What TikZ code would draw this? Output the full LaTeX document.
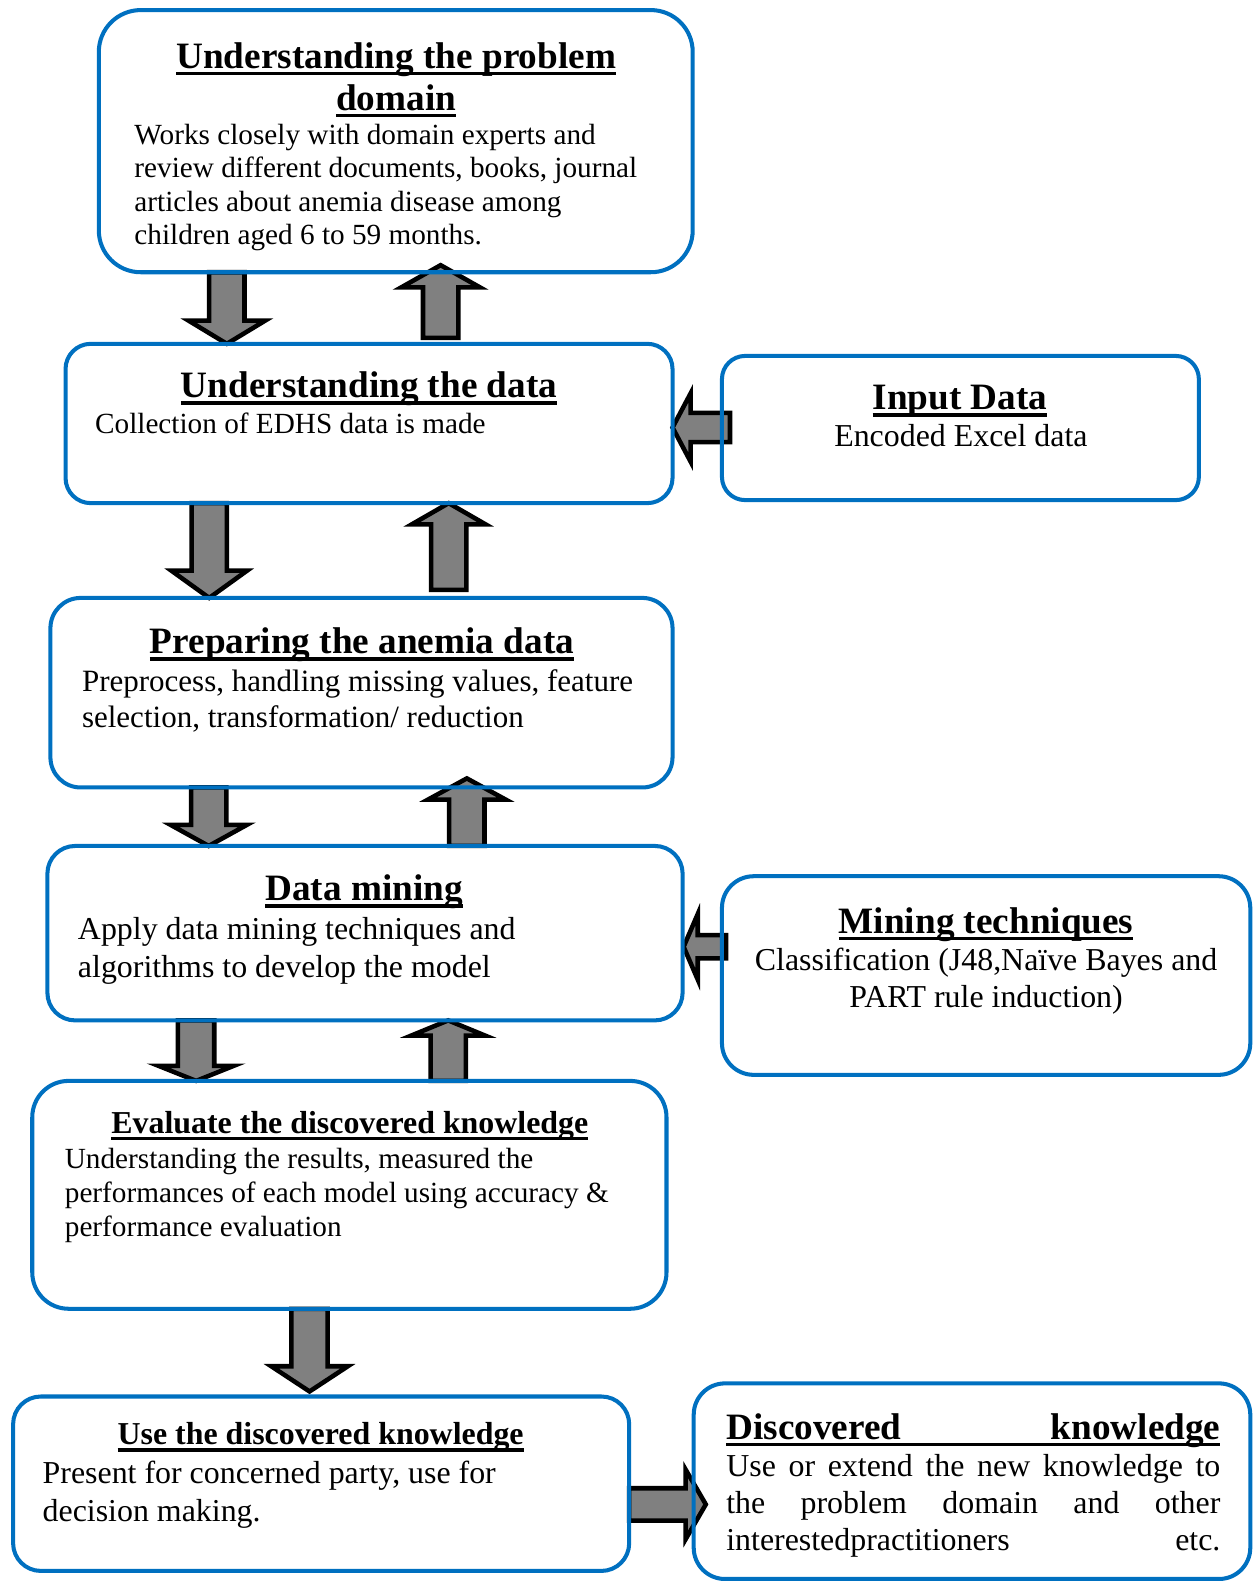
\documentclass[tikz,border=0pt]{standalone}
\usepackage{fontspec}
\setmainfont{Liberation Serif}
\usepackage{tikz}
\usepackage{xcolor}
\usetikzlibrary{positioning,calc,backgrounds}
\definecolor{boxblue}{HTML}{0070C0}
\definecolor{arrowgrey}{HTML}{808080}
% thick underline for the box titles
\newcommand\hul[1]{\setbox0=\hbox{#1}\rlap{\rule[-3.8pt]{\wd0}{1.9pt}}\box0}
% block arrow: tail, tip, shaft half width, head half width, head length
\newcommand\fatarrow[5]{%
  \draw[blockarrow] let \p1=#1, \p2=#2,
      \n1={veclen(\x2-\x1,\y2-\y1)}, \n2={(\x2-\x1)/\n1}, \n3={(\y2-\y1)/\n1} in
    ({\x1-#3*(\n3)},{\y1+#3*(\n2)})
    -- ({\x2-#5*(\n2)-#3*(\n3)},{\y2-#5*(\n3)+#3*(\n2)})
    -- ({\x2-#5*(\n2)-#4*(\n3)},{\y2-#5*(\n3)+#4*(\n2)})
    -- (\p2)
    -- ({\x2-#5*(\n2)+#4*(\n3)},{\y2-#5*(\n3)-#4*(\n2)})
    -- ({\x2-#5*(\n2)+#3*(\n3)},{\y2-#5*(\n3)-#3*(\n2)})
    -- ({\x1+#3*(\n3)},{\y1-#3*(\n2)}) -- cycle;}
\tikzset{
  box/.style     ={draw=boxblue, line width=0.08cm, inner sep=0pt, outer sep=0pt},
  head/.style    ={font=\fontsize{21}{23.8}\selectfont\bfseries, inner sep=0pt,
                   anchor=base},
  subhead/.style ={head, font=\fontsize{18}{21}\selectfont\bfseries},
  body/.style    ={font=\fontsize{16.5}{18.8}\selectfont, inner sep=0pt,
                   align=left, anchor=north west},
  bigbody/.style ={body, font=\fontsize{18}{21}\selectfont},
  blockarrow/.style={draw=black, fill=arrowgrey, line width=0.09cm, line join=miter},
}
\begin{document}
\begin{tikzpicture}
  \useasboundingbox (0,0) rectangle (24.96,-31.36);

  % boxes
  \node[box, minimum width=11.78cm, minimum height=5.2cm, rounded corners=0.83cm]
    (domain) at (7.85,-2.8) {};
  \node[box, minimum width=12.04cm, minimum height=3.16cm, rounded corners=0.5cm]
    (data) at (7.32,-8.4) {};
  \node[box, minimum width=9.46cm, minimum height=2.86cm, rounded corners=0.46cm]
    (input) at (19.05,-8.49) {};
  \node[box, minimum width=12.34cm, minimum height=3.76cm, rounded corners=0.6cm]
    (prep) at (7.17,-13.74) {};
  \node[box, minimum width=12.6cm, minimum height=3.46cm, rounded corners=0.55cm]
    (mining) at (7.24,-18.51) {};
  \node[box, minimum width=10.48cm, minimum height=3.94cm, rounded corners=0.63cm]
    (tech) at (19.56,-19.35) {};
  \node[box, minimum width=12.58cm, minimum height=4.52cm, rounded corners=0.72cm]
    (eval) at (6.93,-23.7) {};
  \node[box, minimum width=12.22cm, minimum height=3.46cm, rounded corners=0.55cm]
    (use) at (6.37,-29.43) {};
  \node[box, minimum width=11.04cm, minimum height=3.88cm, rounded corners=0.62cm]
    (disc) at (19.28,-29.38) {};

  % titles
  \node[head, anchor=north, align=center] (domaint) at (7.86,-0.84)
    {\hul{Understanding the problem}\\\hul{domain}};
  \node[head] (datat) at (7.32,-7.89) {\hul{Understanding the data}};
  \node[head] (inputt) at (19.04,-8.13) {\hul{Input Data}};
  \node[head] (prept) at (7.18,-12.97) {\hul{Preparing the anemia data}};
  \node[head] (miningt) at (7.22,-17.87) {\hul{Data mining}};
  \node[head] (techt) at (19.56,-18.51) {\hul{Mining techniques}};
  \node[subhead] (evalt) at (6.94,-22.48) {\hul{Evaluate the discovered knowledge}};
  \node[subhead] (uset) at (6.36,-28.66) {\hul{Use the discovered knowledge}};
  \node[head, anchor=base west] (disct) at (14.4,-28.55)
    {\hul{\makebox[9.8cm][s]{Discovered knowledge}}};

  % texts
  \node[body] (domainb) at (2.66,-2.46)
    {Works closely with domain experts and\\review different documents, books, journal\\
     articles about anemia disease among\\children aged 6 to 59 months.};
  \node[body] (datab) at (1.88,-8.18) {Collection of EDHS data is made};
  \node[bigbody, anchor=base] (inputb) at (19.06,-8.86) {Encoded Excel data};
  \node[body, font=\fontsize{17.5}{20.4}\selectfont] (prepb) at (1.62,-13.28)
    {Preprocess, handling missing values, feature\\selection, transformation/ reduction};
  \node[bigbody, font=\fontsize{18}{21.5}\selectfont] (miningb) at (1.54,-18.18)
    {Apply data mining techniques and\\algorithms to develop the model};
  \node[bigbody, align=center, anchor=north] (techb) at (19.56,-18.8)
    {Classification (J48,Naïve Bayes and\\PART rule induction)};
  \node[body, font=\fontsize{16.5}{19.3}\selectfont] (evalb) at (1.28,-22.76)
    {Understanding the results, measured the\\performances of each model using accuracy \&\\
     performance evaluation};
  \node[bigbody] (useb) at (0.84,-28.98)
    {Present for concerned party, use for\\decision making.};
  \node[bigbody] (discb) at (14.4,-28.84)
    {\makebox[9.8cm][s]{Use or extend the new knowledge to}\\
     \makebox[9.8cm][s]{the problem domain and other}\\
     \makebox[9.8cm][s]{interestedpractitioners etc.}};

  % block arrows
  \begin{pgfonlayer}{background}
    \fatarrow{(domain.south -| 4.5,0)}{(data.north -| 4.5,0)}{0.35cm}{0.76cm}{0.46cm}
    \fatarrow{($(data.north -| 8.74,0)+(0,0.12)$)}{($(domain.south -| 8.74,0)+(0,0.14)$)}{0.35cm}{0.78cm}{0.44cm}
    \fatarrow{(data.south -| 4.15,0)}{(prep.north -| 4.15,0)}{0.35cm}{0.75cm}{0.54cm}
    \fatarrow{($(prep.north -| 8.9,0)+(0,0.16)$)}{(data.south -| 8.9,0)}{0.35cm}{0.73cm}{0.42cm}
    \fatarrow{(prep.south -| 4.14,0)}{(mining.north -| 4.14,0)}{0.35cm}{0.76cm}{0.42cm}
    \fatarrow{(mining.north -| 9.26,0)}{($(prep.south -| 9.26,0)+(0,0.18)$)}{0.35cm}{0.77cm}{0.42cm}
    \fatarrow{(mining.south -| 3.89,0)}{(eval.north -| 3.89,0)}{0.36cm}{0.75cm}{0.3cm}
    \fatarrow{(eval.north -| 8.89,0)}{(mining.south -| 8.89,0)}{0.35cm}{0.73cm}{0.3cm}
    \fatarrow{(eval.south -| 6.14,0)}{($(use.north -| 6.14,0)+(0,0.1)$)}{0.36cm}{0.76cm}{0.5cm}
    \fatarrow{($(input.west |- 0,-8.48)+(0.16,0)$)}{(data.east |- 0,-8.48)}{0.29cm}{0.68cm}{0.36cm}
    \fatarrow{($(tech.west |- 0,-18.78)+(0.08,0)$)}{($(mining.east |- 0,-18.78)+(0.02,0)$)}{0.23cm}{0.65cm}{0.28cm}
    \fatarrow{(use.east |- 0,-29.84)}{($(disc.west |- 0,-29.84)+(0.24,0)$)}{0.32cm}{0.69cm}{0.4cm}
  \end{pgfonlayer}
\end{tikzpicture}
\end{document}
